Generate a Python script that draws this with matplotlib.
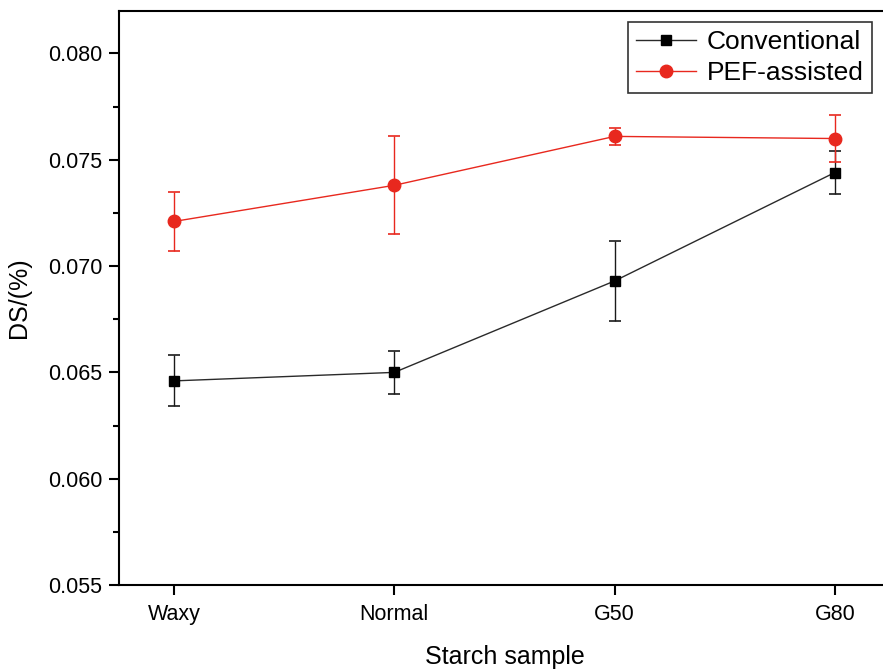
import matplotlib.pyplot as plt

plt.rcParams['font.family'] = ['Liberation Sans', 'DejaVu Sans']

samples = ["Waxy", "Normal", "G50", "G80"]
conv = [0.0646, 0.0650, 0.0693, 0.0744]
conv_err = [0.0012, 0.0010, 0.0019, 0.0010]
pef = [0.0721, 0.0738, 0.0761, 0.0760]
pef_err = [0.0014, 0.0023, 0.0004, 0.0011]

fig = plt.figure(figsize=(8.83, 6.69), dpi=100)
ax = fig.add_axes([0.1348, 0.1256, 0.873, 0.858])

x = range(len(samples))
c1 = ax.errorbar(x, conv, yerr=conv_err, color="#2a2a2a", lw=1, marker="s", ms=7.5,
                 mfc="black", mec="black", ecolor="#1a1a1a",
                 capsize=4.5, elinewidth=1, capthick=1.2, label="Conventional", zorder=3)
c2 = ax.errorbar(x, pef, yerr=pef_err, color="#e8281e", lw=1, marker="o", ms=9,
                 capsize=4.5, elinewidth=1, capthick=1.2, label="PEF-assisted", zorder=3)

ax.set_xlim(-0.25, 3.25)
ax.set_ylim(0.055, 0.082)
ax.set_xticks(list(x))
ax.set_xticklabels(samples)
ax.set_yticks([0.055, 0.060, 0.065, 0.070, 0.075, 0.080])
ax.set_yticks([0.0575, 0.0625, 0.0675, 0.0725, 0.0775], minor=True)
ax.yaxis.set_major_formatter(plt.FuncFormatter(lambda v, p: "%.3f" % v))
ax.tick_params(axis="both", which="major", direction="out", length=7, width=1.5,
               labelsize=15.5, pad=5)
ax.tick_params(axis="x", which="major", pad=7)
ax.tick_params(axis="y", which="minor", direction="out", length=4, width=1.5)
for s in ax.spines.values():
    s.set_linewidth(1.5)

ax.set_xlabel("Starch sample", fontsize=18, labelpad=14)
ax.set_ylabel("DS/(%)", fontsize=18, labelpad=12)

leg = ax.legend(handles=[c1[0], c2[0]], labels=["Conventional", "PEF-assisted"],
                loc="upper left", bbox_to_anchor=(0.66, 0.98), fontsize=19,
                frameon=True, fancybox=False, edgecolor="black",
                handlelength=2.3, borderpad=0.3, labelspacing=0.25, handletextpad=0.4,
                borderaxespad=0)
leg.get_frame().set_linewidth(1.2)

fig.savefig("out.png", dpi=100)
